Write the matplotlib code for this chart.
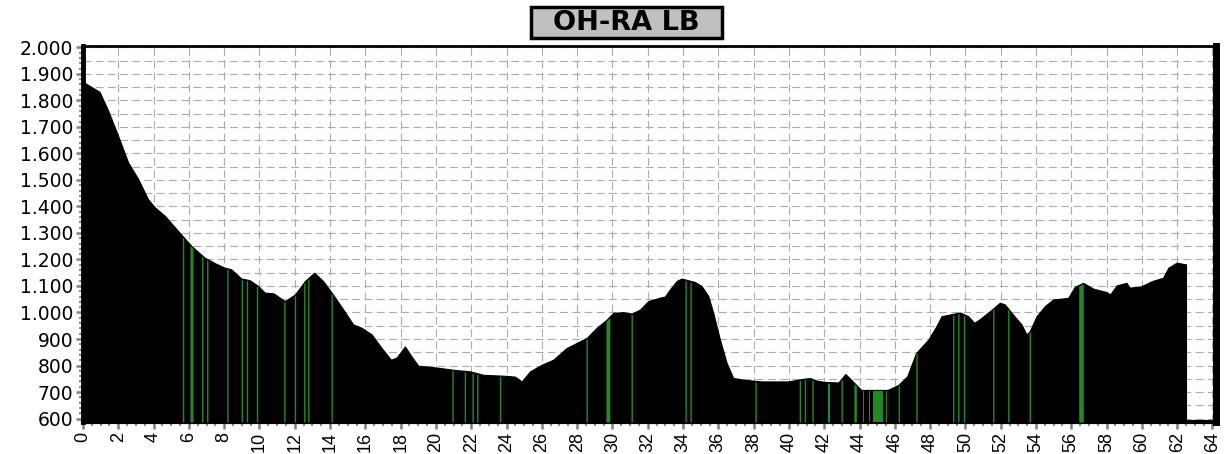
import numpy as np
import matplotlib
matplotlib.use('Agg')
import matplotlib.pyplot as plt
from matplotlib.patches import Rectangle
from matplotlib.ticker import MultipleLocator, FuncFormatter

# profilo altimetrico (km, m)
km = [0, 0.47, 0.94, 1.42, 1.98, 2.55, 3.12, 3.68, 4.06, 4.63, 5.38, 6.14, 6.89, 7.5, 8.03,
      8.4, 8.97, 9.44, 9.92, 10.3, 10.8, 11.44, 12.01, 12.58, 13.1, 13.6, 14.09, 14.75, 15.31,
      15.79, 16.36, 16.92, 17.45, 17.77, 18.24, 18.62, 19.0, 19.56, 20.32, 20.98, 21.93, 22.68,
      24.0, 24.48, 24.86, 25.33, 25.99, 26.65, 27.4, 27.97, 28.54, 29.1, 29.67, 30.05, 30.6,
      31.09, 31.56, 32.03, 32.69, 32.97, 33.26, 33.64, 33.92, 34.67, 35.05, 35.43, 35.71, 36.09,
      36.47, 36.84, 37.51, 38.45, 39.96, 40.72, 41.19, 41.57, 42.04, 42.8, 43.2, 44.1, 45.6,
      46.2, 46.7, 47.2, 47.9, 48.3, 48.65, 49.3, 49.7, 50.16, 50.5, 50.8, 51.5, 51.95, 52.24,
      52.7, 53.18, 53.46, 53.65, 54.03, 54.5, 54.97, 55.82, 56.2, 56.67, 57.24, 58.0, 58.2,
      58.57, 59.13, 59.3, 59.9, 60.6, 61.2, 61.5, 61.97, 62.43, 62.5]
quota = [1870, 1851, 1832, 1762, 1668, 1567, 1504, 1428, 1397, 1365, 1308, 1251, 1207, 1185, 1169,
         1163, 1128, 1122, 1100, 1075, 1072, 1043, 1068, 1119, 1150, 1119, 1075, 1011, 955,
         942, 917, 866, 822, 830, 872, 834, 799, 796, 790, 784, 778, 765,
         761, 758, 740, 778, 803, 822, 866, 885, 904, 942, 973, 999, 1001,
         996, 1011, 1043, 1056, 1060, 1087, 1119, 1128, 1115, 1100, 1062, 999, 898,
         810, 753, 746, 740, 740, 749, 753, 743, 738, 736, 768, 708, 708,
         727, 759, 847, 898, 942, 986, 995, 1000, 986, 961, 974, 1011, 1037, 1030,
         992, 955, 917, 930, 986, 1024, 1049, 1055, 1097, 1112, 1090, 1077, 1068,
         1102, 1112, 1094, 1097, 1119, 1131, 1169, 1188, 1182, 1182]

# tratti verdi (inizio / fine in km)
verde_inizio = [5.63, 6.06, 6.72, 7.0, 8.14, 8.96, 9.25, 9.82, 11.37, 11.97, 12.5, 12.73, 14.05,
                20.9, 21.6, 22.04, 22.3, 23.59, 28.5, 29.63, 31.05, 34.11, 34.39, 38.07, 40.58,
                40.87, 41.3, 42.18, 42.95, 43.68, 44.17, 44.51, 44.78, 45.5, 46.19, 47.19, 49.27,
                49.56, 49.88, 51.54, 52.39, 53.61, 56.42]
verde_fine = [5.71, 6.23, 6.8, 7.08, 8.22, 9.04, 9.33, 9.9, 11.45, 12.05, 12.58, 12.81, 14.13,
              20.98, 21.68, 22.12, 22.38, 23.67, 28.58, 29.85, 31.13, 34.19, 34.47, 38.15, 40.66,
              40.95, 41.38, 42.3, 43.03, 43.82, 44.25, 44.59, 45.34, 45.58, 46.27, 47.27, 49.35,
              49.64, 49.96, 51.62, 52.47, 53.69, 56.68]

x_ticks = list(range(0, 65, 2))
y_min, y_max = 587, 2005

fig = plt.figure(figsize=(12.24, 4.54), dpi=100)
ax = fig.add_axes([83 / 1224, 1 - 422 / 454, 1133 / 1224, 376 / 454])

# griglia tratteggiata
for y in np.arange(600, 2001, 50):
    ax.axhline(y, color='#ababab', lw=0.8, dashes=(7, 4), zorder=0)
for x in x_ticks:
    ax.axvline(x, color='#ababab', lw=0.8, dashes=(7, 4), zorder=0)

# profilo
ax.fill_between(km, y_min, quota, color='black', lw=0.8, zorder=2)

for s, e in zip(verde_inizio, verde_fine):
    xs = np.linspace(s, e, 6)
    ys = np.interp(xs, km, quota) - 4
    ax.fill_between(xs, y_min, ys, color='#228a22', lw=0, zorder=3)

ax.set_xlim(0, 64.2)
ax.set_ylim(y_min, y_max)

ax.set_xticks(x_ticks)
ax.set_xticklabels([str(v) for v in x_ticks], rotation=90, fontsize=13,
                   family='Liberation Sans')
ax.xaxis.set_minor_locator(MultipleLocator(0.5))
ax.yaxis.set_major_locator(MultipleLocator(100))
ax.yaxis.set_minor_locator(MultipleLocator(20))
ax.yaxis.set_major_formatter(FuncFormatter(lambda v, p: f'{int(v):,}'.replace(',', '.')))
for lab in ax.get_yticklabels():
    lab.set_fontsize(13.5)
    lab.set_family('DejaVu Sans')

ax.tick_params(axis='both', which='major', direction='out', length=5, width=1.8,
               color='#808080', pad=2)
ax.tick_params(axis='both', which='minor', direction='out', length=3, width=1.5,
               color='#909090')

for side, w in [('left', 3.5), ('right', 5), ('top', 2), ('bottom', 3)]:
    ax.spines[side].set_linewidth(w)
    ax.spines[side].set_color('black')

# titolo in riquadro
fig.patches.append(Rectangle((531 / 1224, 1 - 38 / 454), 191 / 1224, 31 / 454,
                             transform=fig.transFigure, facecolor='#c0c0c0',
                             edgecolor='black', linewidth=2.5))
fig.text(626 / 1224, 1 - 23 / 454, 'OH-RA LB', ha='center', va='center',
         fontsize=19.5, fontweight='bold', family='DejaVu Sans')

plt.savefig('out.png', dpi=100)
